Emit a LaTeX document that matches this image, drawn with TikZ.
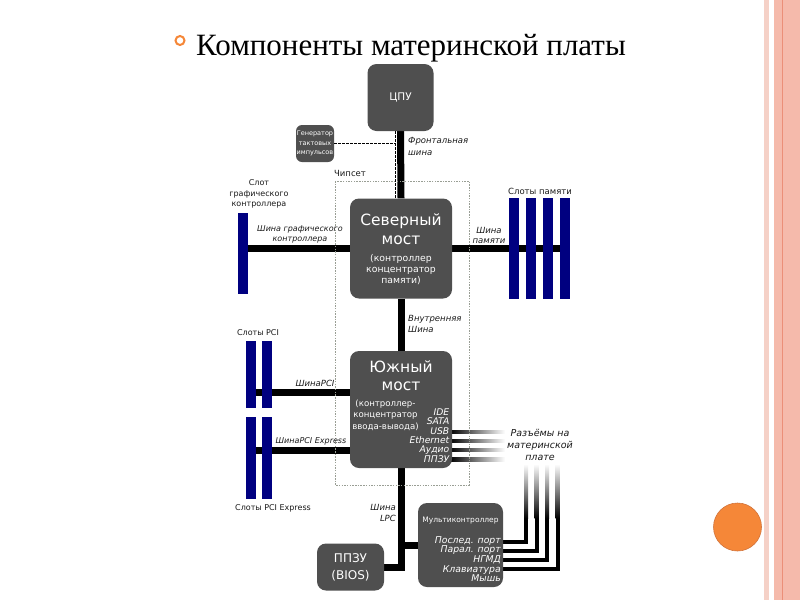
\documentclass[tikz,border=0pt]{standalone}
\usepackage{fontspec}
\setmainfont{DejaVu Sans}
\newfontfamily\titlefont{Liberation Serif}
\usetikzlibrary{backgrounds}

\newlength{\du}
\setlength{\du}{1pt}
\newcommand{\fsz}[2]{\fontsize{#1}{#2}\selectfont}

\definecolor{boxgray}{rgb}{0.310000, 0.310000, 0.310000}
\definecolor{slotblue}{rgb}{0.000000, 0.000000, 0.500000}
\definecolor{labeltext}{rgb}{0.100000, 0.100000, 0.100000}
\definecolor{framegray}{rgb}{0.600000, 0.620000, 0.580000}
\definecolor{accentorange}{rgb}{0.960000, 0.530000, 0.220000}
\definecolor{accentdark}{rgb}{0.820000, 0.450000, 0.230000}
\definecolor{stripelight}{rgb}{0.960000, 0.820000, 0.780000}
\definecolor{stripepink}{rgb}{0.960000, 0.730000, 0.670000}
\definecolor{stripeline}{rgb}{0.920000, 0.560000, 0.470000}

\tikzset{
  chip/.style={fill=boxgray, rounded corners=9\du, inner sep=0pt, text=white, align=center},
  slotbar/.style={fill=slotblue, inner sep=0pt, minimum width=10\du},
  bus/.style={draw=black, line width=7\du, line join=miter},
  portline/.style={draw=black, line width=4\du, line join=miter},
  clockline/.style={draw=black, line width=0.8\du, dash pattern=on 2.5\du off 1.5\du},
  chipframe/.style={draw=framegray, line width=0.8\du, dash pattern=on 1.5\du off 1.2\du},
  lbl/.style={text=labeltext, inner sep=0pt, align=center},
  buslbl/.style={lbl, font=\itshape\fsz{8.5}{11}},
  wtext/.style={text=white, inner sep=0pt, align=center},
}

\begin{document}
\begin{tikzpicture}
\pgftransformxscale{1.000000}
\pgftransformyscale{-1.000000}
\useasboundingbox (0\du,0\du) rectangle (800\du,600\du);

% slide decoration
\fill[stripelight] (764\du,0\du) rectangle (769\du,600\du);
\fill[stripepink] (774\du,0\du) rectangle (800\du,600\du);
\draw[stripeline, line width=1\du] (782\du,0\du) -- (782\du,600\du);
\node[circle, fill=accentorange, draw=accentdark, line width=0.6\du, minimum size=48\du, inner sep=0pt] (dot) at (737.5\du,527\du) {};

% title
\node[circle, draw=accentorange, line width=2\du, minimum size=9\du, inner sep=0pt] (bullet) at (180\du,40.5\du) {};
\node[anchor=base west, inner sep=0pt, font=\titlefont\fsz{31}{31}] (title) at (196\du,55\du) {Компоненты материнской платы};

% chipset frame
\draw[chipframe] (335\du,181\du) rectangle (469\du,485\du);
\node[lbl, font=\fsz{8.5}{10}] (chipset) at (350\du,173\du) {Чипсет};

% chips
\node[chip, minimum width=66\du, minimum height=67\du, font=\fsz{10.5}{12}] (cpu) at (400.5\du,97.5\du) {ЦПУ};
\node[chip, rounded corners=6\du, minimum width=38\du, minimum height=37\du, font=\fsz{6.5}{9.5}] (gen) at (315\du,143.5\du) {Генератор\\тактовых\\импульсов};
\node[chip, minimum width=102\du, minimum height=100\du] (nb) at (401\du,248.5\du) {};
\node[chip, minimum width=102\du, minimum height=117\du] (sb) at (401\du,409.5\du) {};
\node[chip, minimum width=85\du, minimum height=84\du] (mc) at (460.5\du,545\du) {};
\node[chip, minimum width=67\du, minimum height=47\du, font=\fsz{12}{17}] (bios) at (350.5\du,567\du) {ППЗУ\\(BIOS)};

% text inside the bridges
\node[wtext, font=\fsz{15.5}{18}] (nbname) at (401\du,221\du) {Северный};
\node[wtext, font=\fsz{15.5}{18}] (nbmost) at (401\du,240\du) {мост};
\node[wtext, font=\fsz{9.3}{11}] (nbnote) at (401\du,270\du) {(контроллер\\концентратор\\памяти)};
\node[wtext, font=\fsz{15.5}{18}] (sbname) at (401\du,367\du) {Южный};
\node[wtext, font=\fsz{15.5}{18}] (sbmost) at (401\du,386\du) {мост};
\node[wtext, font=\fsz{8.6}{11.5}] (sbnote) at (385.5\du,415\du) {(контроллер-\\концентратор\\ввода-вывода)};
\node[wtext, anchor=east, align=right, font=\itshape\fsz{9.2}{9.4}] (sbports) at (449.5\du,435.5\du) {IDE\\SATA\\USB\\Ethernet\\Аудио\\ППЗУ};
\node[wtext, font=\fsz{7.5}{8}] (mcname) at (460.5\du,521\du) {Мультиконтроллер};
\node[wtext, anchor=east, align=right, font=\itshape\fsz{9.3}{9.6}] (mcports) at (501\du,559\du) {Послед. порт\\Парал. порт\\НГМД\\Клавиатура\\Мышь};

% slots
\node[slotbar, minimum height=81\du] (agp) at (242.5\du,253.5\du) {};
\foreach \i in {1,...,4}{
  \pgfmathsetmacro\sx{497+17*\i}
  \node[slotbar, minimum height=101\du] (mem\i) at (\sx\du,248.5\du) {};
}
\node[slotbar, minimum height=67\du] (pci1) at (250.5\du,374.5\du) {};
\node[slotbar, minimum height=67\du] (pci2) at (267\du,374.5\du) {};
\node[slotbar, minimum height=82\du] (pcie1) at (250.5\du,458\du) {};
\node[slotbar, minimum height=82\du] (pcie2) at (267\du,458\du) {};

% buses
\coordinate (sbpci) at (350\du,392\du);
\coordinate (sbpcie) at (350\du,450\du);
\begin{scope}[on background layer]
\draw[bus] (cpu.south) -- (nb.north);
\draw[bus] (nb.south) -- (sb.north);
\draw[bus] (nb.west) -- (nb.west -| agp.center);
\draw[bus] (nb.east) -- (nb.east -| mem4.center);
\draw[bus] (sbpci) -- (sbpci -| pci1.center);
\draw[bus] (sbpcie) -- (sbpcie -| pcie1.center);
\draw[bus] (sb.south) |- (bios.east);
\draw[bus] (sb.south |- mc.west) -- (mc.west);
% ports of the multicontroller
\foreach \i in {1,...,4}{
  \pgfmathsetmacro\py{533+9*\i}
  \pgfmathsetmacro\px{515.5+10.5*\i}
  \pgfmathsetmacro\pa{\px-2}
  \pgfmathsetmacro\pb{\px+2}
  \coordinate (port\i) at (500\du,\py\du);
  \coordinate (plug\i) at (\px\du,518\du);
  \draw[portline] (port\i) -| (plug\i);
  \shade[top color=white, bottom color=black] (\pa\du,464\du) rectangle (\pb\du,518.5\du);
}
% connectors of the south bridge
\foreach \y in {432,441,450,459.5}{
  \pgfmathsetmacro\ya{\y-1.6}
  \pgfmathsetmacro\yb{\y+1.6}
  \shade[left color=black, right color=white] (450\du,\ya\du) rectangle (505\du,\yb\du);
}
\end{scope}

% clock line
\coordinate (clk) at (395\du,143.5\du);
\draw[clockline] (gen.east) -- (clk);
\draw[clockline] (cpu.south -| clk) -- (nb.north -| clk);

% labels
\node[lbl, anchor=west, align=left, font=\itshape\fsz{8.5}{12}] (fsb) at (408\du,146\du) {Фронтальная\\шина};
\node[lbl, font=\fsz{8}{10.5}] (agplbl) at (259\du,194\du) {Слот\\графического\\контроллера};
\node[buslbl, font=\itshape\fsz{8}{10}] (agpbus) at (300\du,234\du) {Шина графического\\контроллера};
\node[lbl, font=\fsz{8.5}{10}] (memlbl) at (540\du,191\du) {Слоты памяти};
\node[buslbl, font=\itshape\fsz{8.5}{10}] (membus) at (489\du,235\du) {Шина\\памяти};
\node[buslbl, anchor=west, align=left] (intbus) at (408\du,324\du) {Внутренняя\\Шина};
\node[lbl, font=\fsz{8}{10}] (pcilbl) at (258\du,333\du) {Слоты PCI};
\node[buslbl] (pcibus) at (315\du,383\du) {ШинаPCI};
\node[buslbl, font=\itshape\fsz{8}{10}] (pciebus) at (311\du,441\du) {ШинаPCI Express};
\node[lbl, font=\fsz{8}{10}] (pcielbl) at (273\du,508\du) {Слоты PCI Express};
\node[buslbl, font=\itshape\fsz{9.5}{12}] (plugs) at (540\du,445\du) {Разъёмы на\\материнской\\плате};
\node[buslbl, anchor=east, align=right] (lpcbus) at (396\du,513\du) {Шина\\LPC};
\end{tikzpicture}
\end{document}
